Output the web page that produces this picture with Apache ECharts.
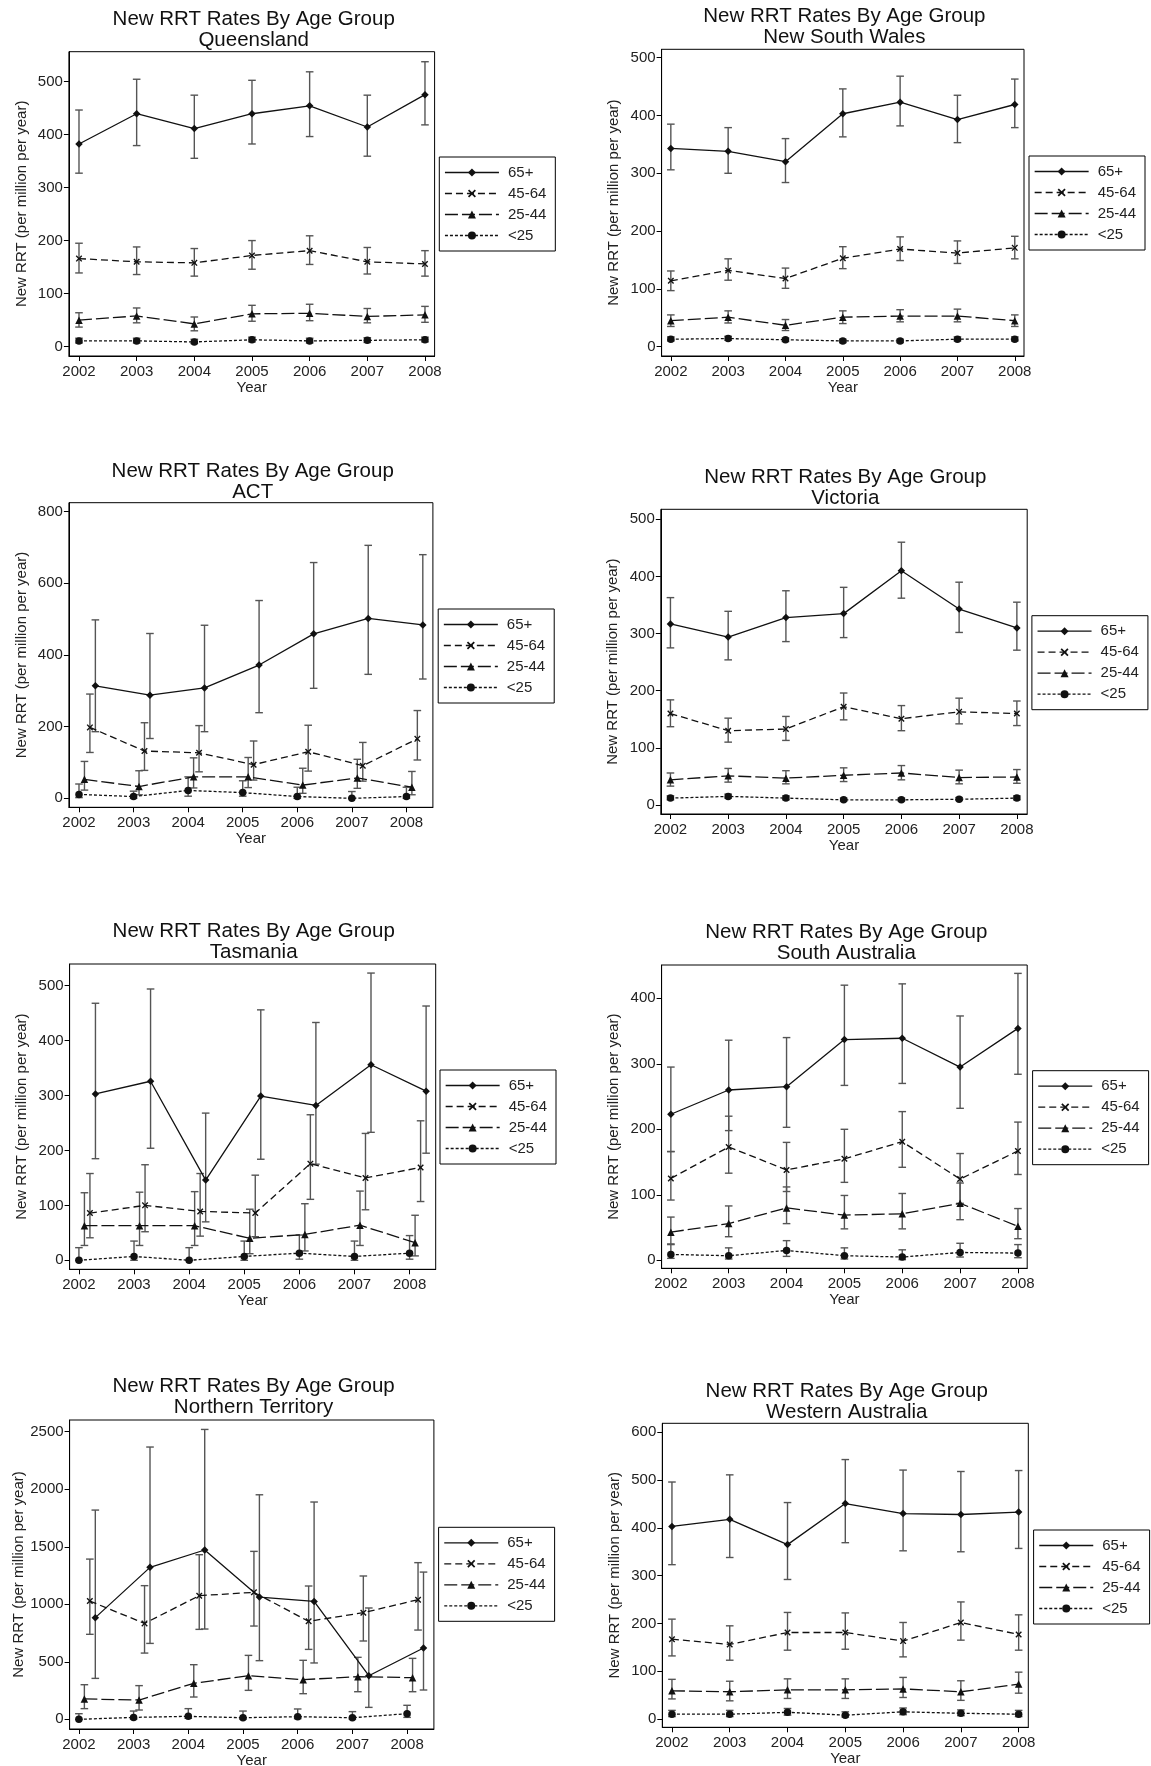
<!DOCTYPE html>
<html><head><meta charset="utf-8">
<script src="https://cdn.jsdelivr.net/npm/echarts@6/dist/echarts.min.js"></script>
<style>html,body{margin:0;padding:0;background:#fff}#chart{width:1151px;height:1766px}</style>
</head><body><div id="chart"></div>
<script>
// ---------------- DATA ----------------
const years = [2002, 2003, 2004, 2005, 2006, 2007, 2008];
const groups = ['65+', '45-64', '25-44', '<25'];
const mainTitle = 'New RRT Rates By Age Group';
const yName = 'New RRT (per million per year)';
const xName = 'Year';

// horizontal offsets (years) used in some panels to separate the groups
const noJitter = [0, 0, 0, 0];
const jitter = [0.3, 0.2, 0.1, 0];

// Queensland
const qldRate = [[382,439,411,439,454,414,475],[166,160,158,172,181,160,156],[50,58,43,62,63,57,60],[11,11,9,13,11,12,13]];
const qldLow  = [[327,379,355,382,396,359,418],[139,136,133,146,155,137,133],[37,45,30,48,49,45,46],[7,7,6,9,7,8,9]];
const qldHigh = [[446,504,474,502,518,474,537],[195,188,185,200,209,187,181],[64,73,56,78,80,72,76],[16,16,14,18,16,17,18]];
const qldTicks = [0,100,200,300,400,500];

// New South Wales
const nswRate = [[343,338,320,403,423,393,419],[114,132,118,153,169,162,171],[45,51,37,51,53,53,45],[13,14,12,10,10,13,13]];
const nswLow  = [[306,300,284,363,382,353,379],[97,115,101,135,149,144,152],[35,41,28,40,43,43,35],[10,11,9,7,7,10,10]];
const nswHigh = [[385,379,360,446,468,435,463],[131,152,136,173,190,183,191],[55,62,47,62,64,65,55],[17,18,15,13,13,17,17]];
const nswTicks = [0,100,200,300,400,500];

// ACT
const actRate = [[314,288,308,372,459,502,484],[198,132,127,94,130,91,166],[53,33,60,60,37,57,31],[11,5,22,16,5,0,5]];
const actLow  = [[186,167,186,239,307,346,333],[128,78,74,51,76,48,107],[23,10,29,30,14,28,10],[2,0,6,6,0,0,0]];
const actHigh = [[498,460,483,552,658,706,680],[291,211,203,160,204,156,245],[103,77,113,114,84,109,75],[40,20,60,49,31,19,31]];
const actTicks = [0,200,400,600,800];

// Victoria
const vicRate = [[317,294,328,335,410,343,310],[160,130,133,172,151,163,160],[44,51,47,52,56,48,49],[12,15,12,9,9,10,12]];
const vicLow  = [[275,254,286,293,362,302,271],[137,110,113,149,130,142,139],[33,40,37,41,44,37,38],[9,12,9,7,7,8,9]];
const vicHigh = [[363,339,375,381,460,390,355],[184,152,155,196,174,187,182],[56,64,60,65,69,61,62],[16,19,16,12,12,13,16]];
const vicTicks = [0,100,200,300,400,500];

// Tasmania
const tasRate = [[303,326,146,299,282,356,308],[86,100,89,86,176,150,169],[63,63,63,40,47,64,32],[0,7,0,7,13,7,13]];
const tasLow  = [[185,204,70,184,175,233,195],[41,52,44,43,111,92,107],[27,27,27,12,17,27,8],[0,0,0,0,2,0,2]];
const tasHigh = [[468,494,268,456,433,523,463],[158,174,158,155,265,231,254],[123,124,125,93,103,126,82],[23,35,23,35,46,35,45]];
const tasTicks = [0,100,200,300,400,500];

// South Australia
const saRate = [[223,260,265,337,339,295,354],[125,173,138,155,181,124,167],[43,56,80,69,71,87,52],[9,7,15,7,5,12,11]];
const saLow  = [[166,198,203,267,270,232,284],[92,133,105,119,142,87,131],[25,36,56,48,48,62,33],[3,2,6,2,1,5,4]];
const saHigh = [[295,336,340,420,422,373,438],[166,220,180,200,227,163,211],[66,83,112,99,102,118,79],[24,19,30,19,16,26,24]];
const saTicks = [0,100,200,300,400];

// Northern Territory
const ntRate = [[884,1321,1472,1063,1025,379,620],[1028,834,1075,1104,852,927,1040],[177,168,313,379,345,371,362],[0,17,26,14,23,14,49]];
const ntLow  = [[356,660,785,510,490,104,255],[739,576,782,811,608,681,776],[93,81,194,252,223,240,240],[0,3,9,3,6,3,17]];
const ntHigh = [[1819,2367,2520,1952,1889,968,1280],[1393,1162,1431,1460,1159,1246,1362],[301,293,475,556,513,539,530],[49,72,93,72,90,67,122]];
const ntTicks = [0,500,1000,1500,2000,2500];

// Western Australia
const waRate = [[403,418,365,451,430,428,433],[167,156,181,181,163,202,177],[59,57,61,61,63,57,73],[10,10,14,8,15,12,10]];
const waLow  = [[323,338,292,369,352,350,357],[132,123,144,146,130,165,144],[42,38,43,43,45,39,54],[5,5,8,4,9,7,5]];
const waHigh = [[496,511,453,543,521,518,520],[209,195,223,222,202,245,218],[83,79,84,84,87,80,98],[18,18,22,15,23,19,18]];
const waTicks = [0,100,200,300,400,500,600];

const panels = [
  {name:'Queensland', rate:qldRate, low:qldLow, high:qldHigh, ticks:qldTicks, off:noJitter},
  {name:'New South Wales', rate:nswRate, low:nswLow, high:nswHigh, ticks:nswTicks, off:noJitter},
  {name:'ACT', rate:actRate, low:actLow, high:actHigh, ticks:actTicks, off:jitter},
  {name:'Victoria', rate:vicRate, low:vicLow, high:vicHigh, ticks:vicTicks, off:noJitter},
  {name:'Tasmania', rate:tasRate, low:tasLow, high:tasHigh, ticks:tasTicks, off:jitter},
  {name:'South Australia', rate:saRate, low:saLow, high:saHigh, ticks:saTicks, off:noJitter},
  {name:'Northern Territory', rate:ntRate, low:ntLow, high:ntHigh, ticks:ntTicks, off:jitter},
  {name:'Western Australia', rate:waRate, low:waLow, high:waHigh, ticks:waTicks, off:noJitter}
];

// ---------------- LAYOUT (pixels / axis extents) ----------------
const layout = [
  {box:[68.9,51.7,434.6,356], x:[2001.825,2008.167], y:[-17.5,555.9], tx:253.7, ty:8.5, lg:[439.3,157]},
  {box:[661.6,49.3,1024,356], x:[2001.839,2008.161], y:[-16.1,514.5], tx:844.4, ty:5.5, lg:[1029,156]},
  {box:[68.9,502.7,432.9,807.3], x:[2001.815,2008.485], y:[-25,825], tx:252.7, ty:460.5, lg:[438.2,609]},
  {box:[660.8,509.3,1027.2,814], x:[2001.833,2008.179], y:[-15.8,517.6], tx:845.3, ty:467, lg:[1031.9,615.7]},
  {box:[69.6,964,435.7,1269.3], x:[2001.831,2008.474], y:[-16.4,539.5], tx:253.7, ty:920.5, lg:[440,1070]},
  {box:[661.6,965,1027.2,1268.3], x:[2001.84,2008.16], y:[-12.2,450.8], tx:846.3, ty:921.5, lg:[1032.6,1070.7]},
  {box:[69.6,1420,433.9,1729], x:[2001.83,2008.49], y:[-84,2602], tx:253.6, ty:1376, lg:[438.6,1527.3]},
  {box:[662.3,1423.3,1028.3,1727.3], x:[2001.833,2008.167], y:[-17.4,618.9], tx:846.7, ty:1380.5, lg:[1033.6,1530]}
];

const FONT = '"Liberation Sans", Arial, Helvetica, sans-serif';
const INK = '#111';
const X_PATH = 'path://M0,1.5L1.5,0L5,3.5L8.5,0L10,1.5L6.5,5L10,8.5L8.5,10L5,6.5L1.5,10L0,8.5L3.5,5Z';
const groupStyle = [
  {symbol:'diamond', size:7.5, dash:'solid'},
  {symbol:X_PATH, size:6.5, dash:[7,4]},
  {symbol:'triangle', size:7.5, dash:[13,4]},
  {symbol:'circle', size:7.5, dash:[3,2]}
];

function renderErr(params, api) {
  const x = api.value(0), lo = api.value(1), hi = api.value(2);
  const a = api.coord([x, lo]), b = api.coord([x, hi]);
  const w = 3.8;
  const st = {stroke:'#555', lineWidth:1.4};
  return {type:'group', children:[
    {type:'line', shape:{x1:a[0], y1:a[1], x2:b[0], y2:b[1]}, style:st},
    {type:'line', shape:{x1:b[0]-w, y1:b[1], x2:b[0]+w, y2:b[1]}, style:st},
    {type:'line', shape:{x1:a[0]-w, y1:a[1], x2:a[0]+w, y2:a[1]}, style:st}
  ]};
}

const option = {
  backgroundColor:'#fff', animation:false,
  title:[], grid:[], xAxis:[], yAxis:[], legend:[], series:[]
};

panels.forEach((p, i) => {
  const L = layout[i];
  option.title.push({
    text: mainTitle + '\n' + p.name, left: L.tx, top: L.ty, textAlign:'center', padding:0,
    textStyle:{fontFamily:FONT, fontSize:20.5, fontWeight:'normal', color:INK, lineHeight:21}
  });
  option.grid.push({
    left:L.box[0], top:L.box[1], width:L.box[2]-L.box[0], height:L.box[3]-L.box[1],
    show:true, borderColor:'#000', borderWidth:1, backgroundColor:'#fff', containLabel:false, outerBoundsMode:'none'
  });
  option.xAxis.push({
    type:'value', gridIndex:i, min:L.x[0], max:L.x[1],
    axisLine:{show:true, onZero:false, lineStyle:{color:'#000', width:1}},
    axisTick:{show:true, length:5, lineStyle:{color:'#000'}, customValues:years},
    axisLabel:{customValues:years, formatter:v=>String(v), fontFamily:FONT, fontSize:15, color:'#222', margin:8},
    splitLine:{show:false},
    name:xName, nameLocation:'middle', nameGap:24,
    nameTextStyle:{fontFamily:FONT, fontSize:15, color:'#222'}
  });
  option.yAxis.push({
    type:'value', gridIndex:i, min:L.y[0], max:L.y[1],
    axisLine:{show:true, onZero:false, lineStyle:{color:'#000', width:1}},
    axisTick:{show:true, length:5, lineStyle:{color:'#000'}, customValues:p.ticks},
    axisLabel:{customValues:p.ticks, formatter:v=>String(v), fontFamily:FONT, fontSize:15, color:'#222', margin:6},
    splitLine:{show:false},
    name:yName, nameLocation:'middle', nameRotate:90, nameGap:40,
    nameTextStyle:{fontFamily:FONT, fontSize:15, color:'#222'}
  });
  option.legend.push({
    left:L.lg[0], top:L.lg[1], orient:'vertical', data:groups, selectedMode:false,
    itemWidth:54, itemHeight:10, itemGap:6, padding:[8,9,8,5],
    borderColor:'#000', borderWidth:1, backgroundColor:'#fff',
    lineStyle:{width:1.3},
    textStyle:{fontFamily:FONT, fontSize:15, lineHeight:15, color:'#222', padding:[0,0,0,4]}
  });
  groups.forEach((g, k) => {
    const off = p.off[k];
    option.series.push({
      type:'custom', name:'ci', xAxisIndex:i, yAxisIndex:i, silent:true, z:1,
      data: years.map((yr, j) => [yr + off, p.low[k][j], p.high[k][j]]),
      encode:{x:0, y:[1,2]}, renderItem:renderErr
    });
  });
  groups.forEach((g, k) => {
    const off = p.off[k];
    const s = groupStyle[k];
    option.series.push({
      type:'line', name:g, xAxisIndex:i, yAxisIndex:i, z:3, silent:true,
      data: years.map((yr, j) => [yr + off, p.rate[k][j]]),
      symbol:s.symbol, symbolSize:s.size, showSymbol:true,
      lineStyle:{color:INK, width:1.3, type:s.dash},
      itemStyle:{color:INK}
    });
  });
});

const chart = echarts.init(document.getElementById('chart'), null, {renderer:'canvas'});
chart.setOption(option);
</script>
</body></html>
